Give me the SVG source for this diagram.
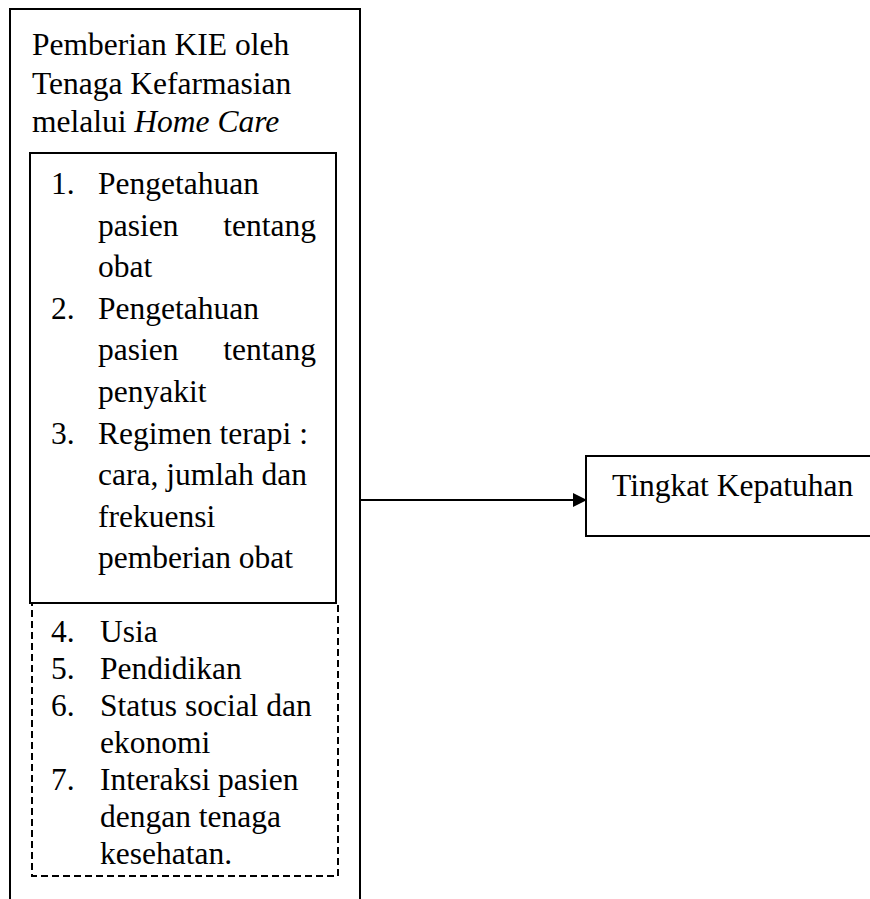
<svg xmlns="http://www.w3.org/2000/svg" width="870" height="899" viewBox="0 0 870 899">
<defs>
<style>
.t{font-family:"Liberation Serif","Times New Roman",serif;font-size:31.5px;fill:#000}
.box{fill:none;stroke:#000;stroke-width:2}
.dash{fill:none;stroke:#000;stroke-width:2;stroke-dasharray:7,4}
.e{text-anchor:end}
</style>
<marker id="arr" markerWidth="14" markerHeight="14" refX="13" refY="7" orient="auto" markerUnits="userSpaceOnUse">
<path d="M0,0 L14,7 L0,14 Z" fill="#000"/>
</marker>
</defs>
<rect width="870" height="899" fill="#fff"/>
<g id="node-kie">
<path class="box" d="M10,899 V9 H360 V899"/>
<text class="t" x="32" y="55">Pemberian KIE oleh</text>
<text class="t" x="32" y="94">Tenaga Kefarmasian</text>
<text class="t" x="32" y="132">melalui <tspan font-style="italic">Home Care</tspan></text>
</g>
<g id="node-factors">
<rect class="box" x="30" y="153" width="306" height="450"/>
<text class="t" x="51" y="194">1.</text>
<text class="t" x="98" y="194">Pengetahuan</text>
<text class="t" x="98" y="236">pasien</text>
<text class="t e" x="316" y="236">tentang</text>
<text class="t" x="98" y="277">obat</text>
<text class="t" x="51" y="319">2.</text>
<text class="t" x="98" y="319">Pengetahuan</text>
<text class="t" x="98" y="360">pasien</text>
<text class="t e" x="316" y="360">tentang</text>
<text class="t" x="98" y="402">penyakit</text>
<text class="t" x="51" y="444">3.</text>
<text class="t" x="98" y="444">Regimen terapi :</text>
<text class="t" x="98" y="485">cara, jumlah dan</text>
<text class="t" x="98" y="527">frekuensi</text>
<text class="t" x="98" y="568">pemberian obat</text>
</g>
<g id="node-other">
<rect class="dash" x="32" y="603" width="306" height="273"/>
<text class="t" x="51" y="642">4.</text>
<text class="t" x="100" y="642">Usia</text>
<text class="t" x="51" y="679">5.</text>
<text class="t" x="100" y="679">Pendidikan</text>
<text class="t" x="51" y="716">6.</text>
<text class="t" x="100" y="716">Status social dan</text>
<text class="t" x="100" y="753">ekonomi</text>
<text class="t" x="51" y="790">7.</text>
<text class="t" x="100" y="790">Interaksi pasien</text>
<text class="t" x="100" y="827">dengan tenaga</text>
<text class="t" x="100" y="864">kesehatan.</text>
</g>
<g id="node-kepatuhan">
<rect class="box" x="586" y="456" width="310" height="80"/>
<text class="t" x="612" y="496">Tingkat Kepatuhan</text>
</g>
<g id="connectors">
<line x1="360" y1="500" x2="586" y2="500" stroke="#000" stroke-width="2" marker-end="url(#arr)"/>
</g>
</svg>
